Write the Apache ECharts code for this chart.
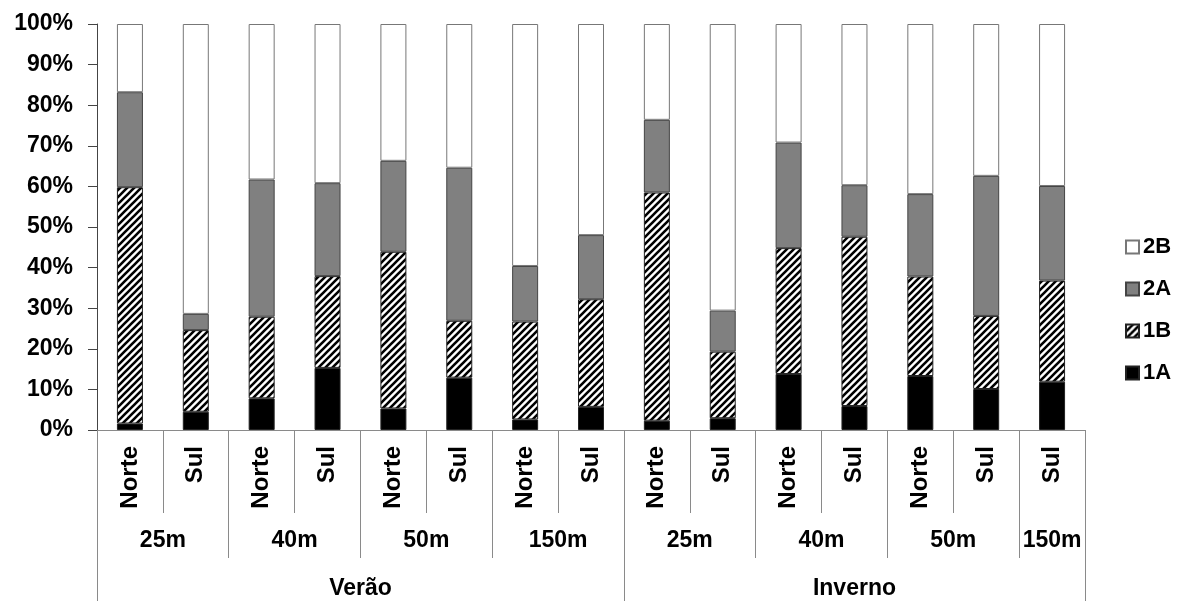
<!DOCTYPE html>
<html>
<head>
<meta charset="utf-8">
<script src="https://cdn.jsdelivr.net/npm/echarts@6/dist/echarts.min.js"></script>
<style>html,body{margin:0;padding:0;background:#fff}#c{width:1184px;height:601px}</style>
</head>
<body>
<div id="c"></div>
<script>
// ---- data ----
const subLabels = ['Norte','Sul','Norte','Sul','Norte','Sul','Norte','Sul','Norte','Sul','Norte','Sul','Norte','Sul','Sul'];
const depthLabels = ['25m','40m','50m','150m','25m','40m','50m','150m'];
const depthSizes = [2,2,2,2,2,2,2,1];
const seasonLabels = ['Verão','Inverno'];
const seasonSizes = [8,7];
const yTicks = [0,10,20,30,40,50,60,70,80,90,100];
const s1A = [1.6,4.5,7.8,15.3,5.3,12.9,2.6,5.7,2.3,2.9,13.8,5.9,13.3,10.1,11.9];
const s1B = [58.2,20.1,20.1,22.6,38.6,14.0,24.1,26.5,56.2,16.4,31.0,41.7,24.5,18.0,24.9];
const s2A = [23.4,4.0,33.8,22.9,22.4,37.7,13.7,15.8,17.9,10.1,26.0,12.7,20.3,34.5,23.3];
const s2B = [16.8,71.4,38.3,39.2,33.7,35.4,59.6,52.0,23.6,70.6,29.2,39.7,41.9,37.4,39.9];

// ---- helpers ----
function groups(sizes, labels){
  const bounds=[0], centers=[], map={};
  let acc=0;
  sizes.forEach((s,i)=>{ const c=acc+s/2; centers.push(c); map[c.toFixed(2)]=labels[i]; acc+=s; bounds.push(acc); });
  return {bounds, centers, map};
}
const dG = groups(depthSizes, depthLabels);
const sG = groups(seasonSizes, seasonLabels);
const N = subLabels.length;

const pc = document.createElement('canvas');
pc.width = 7; pc.height = 7;
const g = pc.getContext('2d');
g.fillStyle='#fff'; g.fillRect(0,0,7,7);
g.strokeStyle='#000'; g.lineWidth=2.6;
g.beginPath();
g.moveTo(-1,8); g.lineTo(8,-1);
g.moveTo(-4,4); g.lineTo(4,-4);
g.moveTo(3,11); g.lineTo(11,3);
g.stroke();

const FONT = 'Liberation Sans, Arial, sans-serif';
const lbl = {color:'#000', fontFamily:FONT, fontWeight:'bold', fontSize:23};
const gray = '#8a8a8a';

function bandAxis(tickVals, tickLen, labelVals, map, margin){
  return {
    type:'value', gridIndex:0, position:'bottom', min:0, max:N,
    axisLine:{show:false}, splitLine:{show:false},
    axisTick:{show:true, customValues:tickVals, length:tickLen, lineStyle:{color:gray, width:1}},
    axisLabel:Object.assign({show:true, customValues:labelVals, margin:margin,
      formatter:v=>map[Number(v).toFixed(2)]||''}, lbl)
  };
}

const chart = echarts.init(document.getElementById('c'), null, {renderer:'canvas'});
const bar = (name, data, color, border) => ({
  name, type:'bar', stack:'t', data, barWidth:26, xAxisIndex:0, yAxisIndex:0,
  itemStyle:{color, borderColor:border, borderWidth:1}, emphasis:{disabled:true}
});
chart.setOption({
  animation:false,
  backgroundColor:'#fff',
  grid:{left:97, right:99, top:24, bottom:171, containLabel:false},
  legend:{
    orient:'vertical', left:1125, top:236, padding:0, itemGap:20, icon:'rect',
    itemWidth:13, itemHeight:13, data:['2B','2A','1B','1A'],
    textStyle:Object.assign({}, lbl, {fontSize:22, padding:[0,0,0,-1]})
  },
  xAxis:[
    {
      type:'category', data:subLabels, gridIndex:0, position:'bottom',
      axisLine:{show:true, lineStyle:{color:gray, width:1}},
      axisTick:{show:true, length:83, lineStyle:{color:gray}},
      axisLabel:Object.assign({interval:0, rotate:90, margin:16}, lbl, {fontSize:24}),
      splitLine:{show:false}
    },
    bandAxis(dG.bounds, 128, dG.centers, dG.map, 99),
    bandAxis(sG.bounds, 171, sG.centers, sG.map, 147)
  ],
  yAxis:{
    type:'value', min:0, max:100, interval:10,
    axisLine:{show:true, lineStyle:{color:'#444'}},
    axisTick:{show:true, length:9, lineStyle:{color:'#444'}},
    splitLine:{show:false},
    axisLabel:Object.assign({margin:24, formatter:'{value}%', customValues:yTicks}, lbl)
  },
  series:[
    bar('1A', s1A, '#000000', '#222'),
    bar('1B', s1B, {image:pc, repeat:'repeat'}, '#222'),
    bar('2A', s2A, '#808080', '#444'),
    bar('2B', s2B, '#ffffff', '#777')
  ]
});
</script>
</body>
</html>
